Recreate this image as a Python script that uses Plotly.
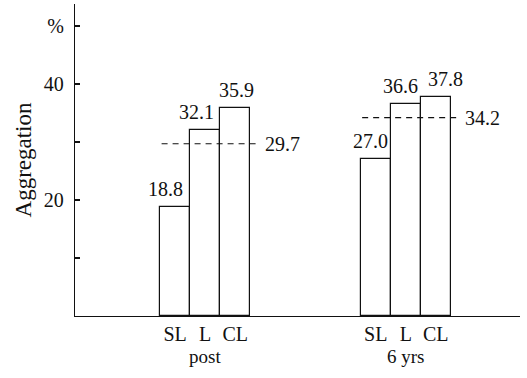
import plotly.graph_objects as go

# Aggregation (%) per lens group, at two time points
groups = ["post", "6 yrs"]
lenses = ["SL", "L", "CL"]
post_values = [18.8, 32.1, 35.9]
yrs6_values = [27.0, 36.6, 37.8]
group_means = [29.7, 34.2]

y_tickvals = [10, 20, 30, 40, 50]
y_ticktext = ["", "20", "", "40", "%"]

# layout positions along the x axis (in bar widths)
group_centers = [4.33, 11.0]
offsets = [-1, 0, 1]
label_shift = [[-10, -9, 1], [-5, -5, 10]]   # px nudges of value labels

FONT = "Times New Roman, Liberation Serif, serif"
INK = "#111"
fig = go.Figure()

all_x, all_text = [], []
for gi, (center, vals) in enumerate(zip(group_centers, [post_values, yrs6_values])):
    xs = [center + o for o in offsets]
    all_x += xs
    all_text += lenses
    fig.add_trace(go.Bar(
        x=xs, y=vals, width=1.0,
        marker=dict(color="white", line=dict(color=INK, width=1.2)),
        showlegend=False, hoverinfo="skip",
    ))
    for x, v, sh in zip(xs, vals, label_shift[gi]):
        fig.add_annotation(x=x, y=v, text=f"{v:.1f}", showarrow=False,
                           xanchor="center", yanchor="bottom", xshift=sh, yshift=5,
                           font=dict(family=FONT, size=20, color=INK))
    # dashed group mean line with its value
    m = group_means[gi]
    fig.add_trace(go.Scatter(
        x=[center - 1.45, center + 1.75], y=[m, m], mode="lines",
        line=dict(color=INK, width=1.1, dash="6px,5px"),
        showlegend=False, hoverinfo="skip",
    ))
    fig.add_annotation(x=center + 1.75, y=m, text=f"{m:.1f}", showarrow=False,
                       xanchor="left", yanchor="middle", xshift=5,
                       font=dict(family=FONT, size=20, color=INK))
    # group name under the lens labels
    fig.add_annotation(x=center, y=0, yref="y", text=groups[gi], showarrow=False,
                       xanchor="center", yanchor="top", yshift=-28,
                       font=dict(family=FONT, size=19, color=INK))

fig.update_layout(
    width=527, height=378,
    margin=dict(l=75, r=7, t=4, b=62),
    plot_bgcolor="white", paper_bgcolor="white",
    bargap=0,
    font=dict(family=FONT, size=19, color=INK),
)
fig.update_xaxes(
    range=[0, 14.8], tickvals=all_x, ticktext=all_text,
    showline=True, linecolor=INK, linewidth=1.4,
    ticks="", showgrid=False, zeroline=False, ticklabelstandoff=0,
    tickfont=dict(family=FONT, size=20, color=INK),
)
fig.update_yaxes(
    range=[0, 53.8], tickvals=y_tickvals, ticktext=y_ticktext,
    showline=True, linecolor=INK, linewidth=1.4,
    ticks="inside", ticklen=5, tickwidth=1.5, tickcolor=INK,
    showgrid=False, zeroline=False, ticklabelstandoff=6,
    title=dict(text="Aggregation", font=dict(family=FONT, size=23, color=INK), standoff=5),
    tickfont=dict(family=FONT, size=20, color=INK),
)

fig.write_html("out.html")
